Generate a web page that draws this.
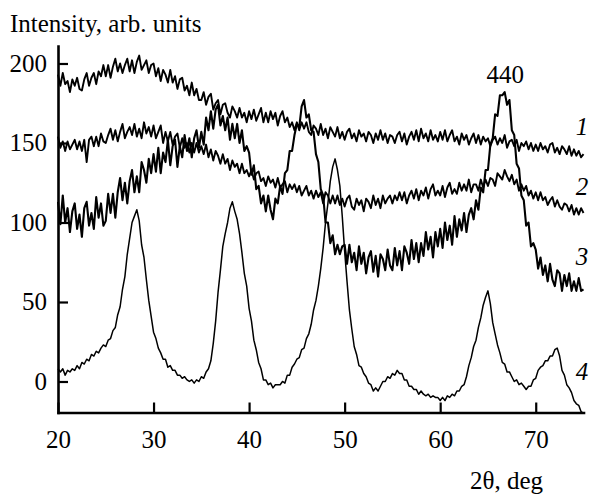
<!DOCTYPE html>
<html>
<head>
<meta charset="utf-8">
<script src="https://cdn.jsdelivr.net/npm/d3@7"></script>
<style>
  body { margin: 0; background: #fff; }
</style>
</head>
<body>
<div id="chart"></div>
<script>
// scan grid: 20..75 deg, one reading every 0.25 deg
const angleStart = 20,
  angleStep = 0.25;

// curve 1
const curve1 = [
  193,186,194,187,189,182,190,186,191,184,183,190,194,186,191,194,187,195,192,199,
  192,199,191,198,203,195,200,194,199,203,195,202,194,201,205,196,199,202,194,199,
  200,192,197,189,196,193,188,196,188,192,184,190,191,183,186,180,188,180,184,177,
  177,182,174,179,181,171,175,177,168,174,175,169,166,173,170,166,172,166,169,163,
  170,165,171,164,168,172,163,169,163,170,165,169,161,167,170,163,166,160,163,158,
  163,158,163,159,163,157,155,161,159,155,162,155,159,153,160,157,154,160,153,157,
  152,157,159,153,156,151,158,154,156,151,157,155,150,156,152,158,152,156,150,155,
  154,150,155,157,151,156,149,154,157,152,158,151,159,153,156,151,158,152,155,151,
  157,152,158,151,155,158,151,154,149,156,152,155,149,153,156,150,155,149,154,151,
  153,148,152,154,149,153,150,155,147,151,152,148,152,145,150,148,151,146,150,145,
  149,145,150,146,148,144,149,150,144,147,143,148,146,143,148,142,146,142,145,141,
  143
];

// curve 2
const curve2 = [
  154,147,151,145,151,146,149,152,146,151,145,152,138,152,154,148,154,148,156,151,
  150,155,159,152,158,151,157,162,153,157,160,155,162,154,159,153,163,156,160,154,
  161,153,157,161,150,157,151,157,149,154,156,147,153,147,150,144,150,144,150,144,
  148,143,149,141,146,139,145,142,137,143,137,140,133,139,135,137,131,137,131,133,
  129,133,127,131,132,126,128,123,129,125,127,122,128,122,124,126,119,124,121,124,
  119,123,117,120,123,117,120,115,120,116,119,112,119,117,112,117,112,117,111,115,
  110,115,117,110,108,115,111,114,107,115,113,109,117,111,115,109,117,112,115,117,
  112,117,114,119,114,119,112,117,120,115,121,114,120,117,122,115,121,124,117,120,
  117,123,116,122,125,118,121,118,125,120,124,120,127,119,124,124,120,127,122,127,
  123,128,127,123,131,129,127,133,129,126,130,124,127,120,124,120,123,117,120,115,
  119,114,119,114,116,111,114,116,110,114,110,108,112,111,107,111,105,109,105,109,
  106
];

// curve 3
const curve3 = [
  113,99,117,100,109,94,107,112,96,105,91,109,113,98,106,96,116,103,112,98,
  101,118,106,118,103,119,128,114,125,112,126,133,119,129,119,138,133,125,140,131,
  143,132,147,131,144,138,152,136,148,152,135,148,141,155,145,153,141,153,158,147,
  157,149,166,158,170,159,171,174,161,167,158,166,152,162,153,162,150,158,145,148,
  144,130,136,121,123,112,117,107,117,108,102,115,112,123,118,131,133,145,145,155,
  162,160,173,177,166,168,158,157,143,138,121,117,100,100,87,92,80,86,80,85,
  86,74,86,75,81,70,85,74,81,68,78,82,69,79,66,80,77,70,83,73,
  70,84,73,82,70,85,81,74,89,77,87,75,87,79,94,83,91,78,94,85,
  96,84,100,89,98,86,104,91,102,95,106,94,105,109,102,114,108,122,119,133,
  133,149,153,168,167,180,180,182,174,177,158,155,137,134,117,114,98,100,85,87,
  83,71,78,67,73,63,74,64,60,70,68,57,67,60,68,57,63,57,65,57,
  58
];

// curve 4
const curve4 = [
  8,6,8,4,7,6,8,7,10,8,12,11,14,13,17,16,19,18,21,23,
  22,26,27,32,34,42,47,58,66,80,90,100,104,108,101,86,78,64,51,41,
  31,27,21,18,14,14,9,10,7,7,4,4,2,3,1,0,1,-1,1,0,
  3,2,6,8,13,24,38,56,70,85,93,100,109,113,107,102,93,81,68,60,
  46,38,26,20,12,8,1,1,-2,-1,-4,-2,-2,-2,0,-1,4,4,9,11,
  14,15,20,21,27,30,36,45,51,60,71,84,100,112,126,135,140,133,123,104,
  82,63,45,33,22,17,10,9,5,3,-1,-2,-6,-4,-6,-3,0,0,3,2,
  5,4,7,5,5,1,1,-3,-3,-5,-5,-8,-6,-8,-9,-8,-10,-9,-10,-10,
  -12,-10,-12,-9,-10,-8,-9,-6,-6,-3,-2,3,10,15,22,26,34,40,48,53,
  57,49,37,30,23,18,12,11,6,6,3,0,1,-2,-1,-3,-5,-3,-3,1,
  2,7,9,10,13,13,16,16,20,21,16,7,4,-2,-4,-7,-12,-14,-15,-19,
  -20
];

const curves = [curve1, curve2, curve3, curve4];
const curveWidths = [1.9, 1.9, 2.1, 1.5];

const xTicks = [20, 30, 40, 50, 60, 70];
const yTicks = [0, 50, 100, 150, 200];

// curve numbers and the reflection index, placed in data units
const curveLabels = ["1", "2", "3", "4"];
const curveLabelAt = [155, 117, 73, 1];
const peakLabel = { text: "440", angle: 66.8, value: 188 };

const serif = '"Liberation Serif"';

const width = 592,
  height = 494,
  margin = { top: 46, right: 8.5, bottom: 81.5, left: 58 };

const svg = d3
  .select("#chart")
  .append("svg")
  .attr("width", width)
  .attr("height", height)
  .attr("viewBox", [0, 0, width, height]);

const x = d3
  .scaleLinear()
  .domain([20, 75])
  .range([margin.left, width - margin.right]);

const y = d3
  .scaleLinear()
  .domain([-19.5, 211])
  .range([height - margin.bottom, margin.top]);

const line = d3
  .line()
  .x((d, i) => x(angleStart + i * angleStep))
  .y((d) => y(d));

// curves first, axes on top
curves.forEach((c, i) => {
  svg
    .append("path")
    .datum(c)
    .attr("fill", "none")
    .attr("stroke", "#000")
    .attr("stroke-width", curveWidths[i])
    .attr("stroke-linejoin", "round")
    .attr("d", line);
});

const yAxis = svg
  .append("g")
  .attr("transform", `translate(${margin.left},0)`)
  .call(
    d3
      .axisLeft(y)
      .tickValues(yTicks)
      .tickSizeInner(-10)
      .tickSizeOuter(0)
      .tickPadding(11)
  );

const xAxis = svg
  .append("g")
  .attr("transform", `translate(0,${height - margin.bottom})`)
  .call(
    d3
      .axisBottom(x)
      .tickValues(xTicks)
      .tickSizeInner(-10)
      .tickSizeOuter(0)
      .tickPadding(18)
  );

for (let g of [xAxis, yAxis]) {
  g.select(".domain").attr("stroke-width", 2.6).attr("stroke-linecap", "square");
  g.selectAll(".tick line").attr("stroke-width", 2.2);
  g.selectAll(".tick text")
    .attr("fill", "#000")
    .style("font-family", serif)
    .style("font-size", "25px");
}

function label(txt, px, py) {
  return svg
    .append("text")
    .attr("x", px)
    .attr("y", py)
    .attr("fill", "#000")
    .style("font-family", serif)
    .style("font-size", "25px")
    .text(txt);
}

label("Intensity, arb. units", 10, 32);
label("2θ, deg", 470, 489);
label(peakLabel.text, x(peakLabel.angle), y(peakLabel.value)).attr("text-anchor", "middle");

curveLabels.forEach((t, i) => {
  label(t, x(74.2), y(curveLabelAt[i])).style("font-style", "italic");
});
</script>
</body>
</html>
